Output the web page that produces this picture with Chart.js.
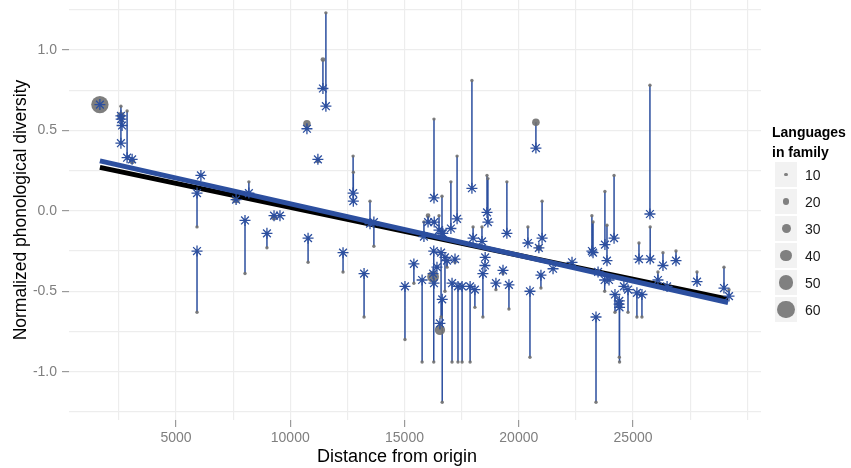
<!DOCTYPE html>
<html>
<head>
<meta charset="utf-8">
<script src="https://cdn.jsdelivr.net/npm/chart.js@4.4.1/dist/chart.umd.min.js"></script>
<style>
  html, body { margin:0; padding:0; background:#fff; }
  #wrap { position:relative; width:851px; height:468px; font-family:"Liberation Sans", Arial, sans-serif; }
  #chart { position:absolute; left:0; top:0; }
  #xtitle { position:absolute; left:247px; width:300px; top:446px; text-align:center; font-size:18px; line-height:20px; color:#000; }
  #legend { position:absolute; left:772px; top:122px; }
  #legend .ltitle { font-size:14px; font-weight:bold; line-height:20px; color:#000; }
  .key { display:flex; align-items:center; height:25px; margin-bottom:2px; }
  .box { width:22px; height:25px; background:#f2f2f2; display:flex; align-items:center; justify-content:center; margin-left:3px; }
  .dot { border-radius:50%; background:#808080; }
  .lab { margin-left:8px; font-size:14px; color:#1a1a1a; }
</style>
</head>
<body>
<div id="wrap">
  <canvas id="chart" width="851" height="468"></canvas>
  <div id="xtitle">Distance from origin</div>
  <div id="legend"><div class="ltitle">Languages<br>in family</div><div id="keys"></div></div>
</div>
<script>
// one entry per language family
const famDistance = [
  1670, 2590, 2590, 2600, 2640, 2860, 3080, 6090, 5920, 5920,
  7630, 8190, 8020, 9290, 9550, 8980, 10780, 10730, 11430, 11560,
  11210, 12750, 12760, 13490, 13660, 12310, 13230, 15020, 15410, 15770,
  15850, 16030, 16290, 16300, 16280, 16250, 16420, 16290, 16510, 16640,
  16650, 16600, 16550, 16770, 16680, 17030, 17300, 17080, 17340, 17520,
  17210, 16860, 17870, 18080, 18000, 18390, 18430, 18520, 18530, 18610,
  18650, 17950, 19000, 19310, 19480, 19570, 20400, 20490, 20750, 20880,
  21020, 20970, 21500, 22330, 23200, 23250, 23470, 23770, 23860, 23760,
  23950, 24170, 24210, 24390, 24400, 24410, 23380, 24600, 24780, 25170,
  25390, 25260, 25740, 25750, 26310, 26880, 26090, 26490, 27800, 28980,
  29200];
const famObserved = [
  0.66, 0.65, 0.59, 0.57, 0.56, 0.62, 0.31, 0.22, -0.10, -0.63,
  0.07, 0.18, -0.39, -0.04, -0.03, -0.23, -0.32, 0.54, 0.94, 1.23,
  0.31, 0.34, 0.24, 0.06, -0.22, -0.38, -0.66, -0.80, -0.45, -0.94,
  -0.07, -0.03, 0.57, -0.07, -0.94, -0.41, -0.35, -0.45, -0.03, 0.09,
  -1.19, -0.66, -0.74, -0.50, -0.14, 0.18, 0.34, -0.94, -0.94, -0.94,
  -0.32, -0.35, -0.94, -0.60, -0.10, -0.10, -0.66, -0.34, -0.29, 0.22,
  0.20, 0.81, -0.49, -0.39, 0.18, -0.61, -0.10, -0.91, 0.55, -0.23,
  0.06, -0.48, -0.36, -0.32, -0.03, -0.07, -0.38, 0.12, -0.09, -0.50,
  -0.43, 0.22, -0.63, -0.58, -0.91, -0.94, -1.19, -0.47, -0.63, -0.66,
  -0.66, -0.20, 0.78, -0.10, -0.26, -0.25, -0.38, -0.47, -0.38, -0.35,
  -0.49];
const famPredicted = [
  0.66, 0.42, 0.59, 0.57, 0.53, 0.33, 0.32, 0.22, 0.11, -0.25,
  0.07, 0.11, -0.06, -0.03, -0.03, -0.14, -0.17, 0.51, 0.76, 0.65,
  0.32, 0.11, 0.06, -0.08, -0.07, -0.26, -0.39, -0.47, -0.33, -0.43,
  -0.16, -0.07, 0.08, -0.07, -0.25, -0.39, -0.35, -0.45, -0.12, -0.14,
  -0.55, -0.26, -0.70, -0.29, -0.14, -0.11, -0.05, -0.45, -0.47, -0.47,
  -0.30, -0.31, -0.47, -0.49, -0.17, -0.19, -0.39, -0.34, -0.29, -0.01,
  -0.07, 0.14, -0.45, -0.37, -0.14, -0.46, -0.20, -0.50, 0.39, -0.23,
  -0.17, -0.40, -0.36, -0.32, -0.25, -0.26, -0.38, -0.21, -0.31, -0.43,
  -0.43, -0.17, -0.52, -0.58, -0.56, -0.60, -0.66, -0.47, -0.49, -0.51,
  -0.52, -0.30, -0.02, -0.30, -0.34, -0.31, -0.43, -0.47, -0.44, -0.48,
  -0.53];
const famLanguages = [
  60, 10, 25, 10, 10, 10, 20, 10, 10, 10,
  25, 10, 10, 20, 10, 10, 10, 25, 15, 10,
  15, 10, 10, 10, 10, 10, 10, 10, 10, 10,
  10, 15, 10, 10, 10, 40, 10, 10, 10, 10,
  10, 10, 35, 10, 15, 10, 10, 10, 10, 10,
  10, 10, 10, 10, 10, 10, 10, 10, 10, 10,
  10, 10, 10, 10, 10, 10, 10, 10, 25, 20,
  10, 10, 10, 10, 10, 10, 10, 10, 10, 10,
  10, 10, 10, 20, 10, 10, 10, 10, 10, 10,
  10, 10, 10, 10, 10, 10, 10, 10, 10, 10,
  10];

// regression lines (end points)
const fitDistance = [1670, 29160];
const fitAll = [0.27, -0.55];
const fitFamilies = [0.31, -0.57];

const legendSizes = [10, 20, 30, 40, 50, 60];
const xGridTicks = [2500, 5000, 7500, 10000, 12500, 15000, 17500, 20000, 22500, 25000, 27500, 30000];
const xLabelTicks = [5000, 10000, 15000, 20000, 25000];
const yGridTicks = [-1.25, -1.0, -0.75, -0.5, -0.25, 0.0, 0.25, 0.5, 0.75, 1.0, 1.25];
const yLabelTicks = [-1.0, -0.5, 0.0, 0.5, 1.0];

const BLUE = '#2c4f9f';
const sizeToRadius = n => 0.3 + 0.14 * n;

const xLabel = v => xLabelTicks.includes(v) ? String(v) : '';
const yLabel = v => {
  const t = yLabelTicks.find(t => Math.abs(t - v) < 1e-6);
  return t === undefined ? '' : t.toFixed(1);
};

// vertical segments observed -> predicted, split by null gaps
const segData = [];
famDistance.forEach((d, i) => {
  segData.push({x:d, y:famObserved[i]}, {x:d, y:famPredicted[i]}, {x:d, y:null});
});

Chart.defaults.font.family = '"Liberation Sans", Arial, sans-serif';

new Chart(document.getElementById('chart'), {
  type: 'scatter',
  data: {
    datasets: [
      { label:'segments', data: segData, showLine:true, spanGaps:false, borderColor:BLUE, borderWidth:1.5, pointRadius:0, order:5 },
      { label:'observed', data: famDistance.map((d,i) => ({x:d, y:famObserved[i]})),
        pointRadius: famLanguages.map(sizeToRadius), backgroundColor:'rgba(112,112,112,0.9)', borderWidth:0, order:4 },
      { label:'all languages', data: fitDistance.map((d,i) => ({x:d, y:fitAll[i]})), showLine:true,
        borderColor:'#000', borderWidth:5, pointRadius:0, order:3 },
      { label:'families', data: fitDistance.map((d,i) => ({x:d, y:fitFamilies[i]})), showLine:true,
        borderColor:BLUE, borderWidth:5, pointRadius:0, order:2 },
      { label:'predicted', data: famDistance.map((d,i) => ({x:d, y:famPredicted[i]})),
        pointStyle:'star', pointRadius:5.5, borderColor:BLUE, backgroundColor:BLUE, borderWidth:1.3, order:1 }
    ]
  },
  options: {
    responsive:false,
    animation:false,
    events:[],
    layout:{ autoPadding:false, padding:{ left:0, right:90, top:0, bottom:0 } },
    plugins:{ legend:{ display:false }, tooltip:{ enabled:false } },
    scales:{
      x:{
        type:'linear', min:318, max:30600,
        border:{ display:false },
        grid:{ color:'#ededed', lineWidth:1.2, tickLength:7, tickWidth:1.2,
               tickColor: c => xLabel(c.tick.value) ? '#9a9a9a' : 'rgba(0,0,0,0)' },
        ticks:{ autoSkip:false, maxRotation:0, color:'#7f7f7f', font:{ size:14 }, padding:3,
                callback: v => xLabel(v) },
        afterBuildTicks: s => { s.ticks = xGridTicks.map(v => ({ value:v })); },
        afterFit: s => { s.height = 48; s.paddingLeft = 0; s.paddingRight = 0; }
      },
      y:{
        type:'linear', min:-1.3, max:1.31,
        border:{ display:false },
        grid:{ color:'#ededed', lineWidth:1.2, tickLength:7, tickWidth:1.2,
               tickColor: c => yLabel(c.tick.value) ? '#9a9a9a' : 'rgba(0,0,0,0)' },
        ticks:{ autoSkip:false, color:'#7f7f7f', font:{ size:14 }, padding:5,
                callback: v => yLabel(v) },
        afterBuildTicks: s => { s.ticks = yGridTicks.map(v => ({ value:v })); },
        title:{ display:true, text:'Normalized phonological diversity', color:'#000',
                font:{ size:17.5 }, padding:{ top:11, bottom:0 } },
        afterFit: s => { s.width = 69; s.paddingTop = 0; s.paddingBottom = 0; }
      }
    }
  }
});

// size legend
const keys = document.getElementById('keys');
legendSizes.forEach(n => {
  const row = document.createElement('div');
  row.className = 'key';
  const box = document.createElement('div');
  box.className = 'box';
  const dot = document.createElement('div');
  dot.className = 'dot';
  const r = sizeToRadius(n);
  dot.style.width = dot.style.height = (2 * r) + 'px';
  box.appendChild(dot);
  const lab = document.createElement('div');
  lab.className = 'lab';
  lab.textContent = n;
  row.appendChild(box);
  row.appendChild(lab);
  keys.appendChild(row);
});
</script>
</body>
</html>
